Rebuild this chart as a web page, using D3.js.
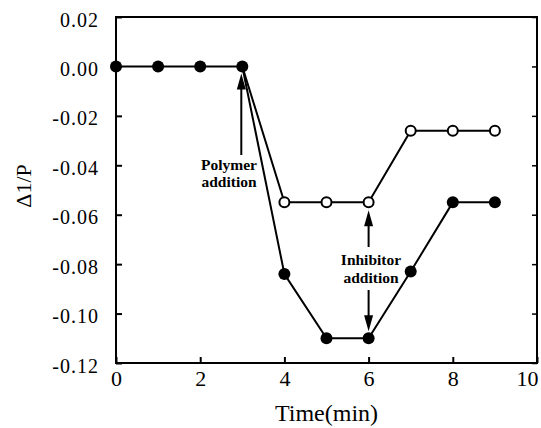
<!DOCTYPE html>
<html>
<head>
<meta charset="utf-8">
<script src="https://cdn.jsdelivr.net/npm/d3@7"></script>
<style>
  body { margin: 0; background: #fff; }
  svg { display: block; }
  text { font-family: "Liberation Serif", "DejaVu Serif", serif; fill: #000; }
</style>
</head>
<body>
<svg id="chart" width="541" height="428"></svg>
<script>
// time points (min)
const time = [0, 1, 2, 3, 4, 5, 6, 7, 8, 9];
// filled circles: polymer only, then inhibitor
const filledValues = [0, 0, 0, 0, -0.084, -0.11, -0.11, -0.083, -0.055, -0.055];
// open circles (series branches off at t=3)
const openTime = [3, 4, 5, 6, 7, 8, 9];
const openValues = [0, -0.055, -0.055, -0.055, -0.026, -0.026, -0.026];

const xTicks = [0, 2, 4, 6, 8, 10];
const yTicks = [0.02, 0.00, -0.02, -0.04, -0.06, -0.08, -0.10, -0.12];

const svg = d3.select('#chart');
const mLeft = 116, mRight = 537, mTop = 17, mBottom = 363;

const x = d3.scaleLinear().domain([0, 10]).range([mLeft, mRight]);
const y = d3.scaleLinear().domain([-0.12, 0.02]).range([mBottom, mTop]);

// frame
svg.append('rect')
  .attr('x', mLeft).attr('y', mTop)
  .attr('width', mRight - mLeft).attr('height', mBottom - mTop)
  .attr('fill', 'none').attr('stroke', '#000').attr('stroke-width', 2);

// ticks
const xAxis = d3.axisBottom(x).tickValues(xTicks).tickSize(-6).tickPadding(6)
  .tickFormat(d3.format('d'));
const gx = svg.append('g').attr('transform', `translate(0,${mBottom})`).call(xAxis);
gx.select('.domain').remove();
gx.selectAll('line').attr('stroke-width', 2);
gx.selectAll('text').attr('font-size', 22).attr('dy', '0.75em');
// last label sits flush with the right edge
gx.selectAll('text').filter(d => d === 10)
  .attr('text-anchor', 'end').attr('dx', 1);

const yAxis = d3.axisLeft(y).tickValues(yTicks).tickSize(-6).tickPadding(17)
  .tickFormat(d3.format('.2f'));
const gy = svg.append('g').attr('transform', `translate(${mLeft},0)`).call(yAxis);
gy.select('.domain').remove();
gy.selectAll('line').attr('stroke-width', 2);
gy.selectAll('text').attr('font-size', 20).attr('letter-spacing', '1px')
  .attr('dy', '0.45em')
  .text(d => d3.format('.2f')(d).replace('−', '-'));

const gr = svg.append('g').attr('transform', `translate(${mRight},0)`)
  .call(d3.axisRight(y).tickValues(yTicks).tickSize(-5).tickFormat(''));
gr.select('.domain').remove();
gr.selectAll('line').attr('stroke-width', 1.5);

// axis titles
svg.append('text')
  .attr('x', (mLeft + mRight) / 2).attr('y', 421)
  .attr('text-anchor', 'middle').attr('font-size', 24)
  .text('Time(min)');

svg.append('text')
  .attr('transform', 'translate(31,186) rotate(-90)')
  .attr('text-anchor', 'middle').attr('font-size', 22)
  .text('Δ1/P');

// lines
const line = d3.line().x(d => x(d[0])).y(d => y(d[1]));
const filled = time.map((t, i) => [t, filledValues[i]]);
const open = openTime.map((t, i) => [t, openValues[i]]);

svg.append('path').datum(open).attr('d', line)
  .attr('fill', 'none').attr('stroke', '#000').attr('stroke-width', 2);
svg.append('path').datum(filled).attr('d', line)
  .attr('fill', 'none').attr('stroke', '#000').attr('stroke-width', 2);

svg.selectAll('.open').data(open.slice(1)).enter().append('circle')
  .attr('cx', d => x(d[0])).attr('cy', d => y(d[1])).attr('r', 5)
  .attr('fill', '#fff').attr('stroke', '#000').attr('stroke-width', 2);
svg.selectAll('.filled').data(filled).enter().append('circle')
  .attr('cx', d => x(d[0])).attr('cy', d => y(d[1])).attr('r', 6)
  .attr('fill', '#000');

// annotations
function arrow(x0, y0, y1) {
  const dir = y1 < y0 ? 1 : -1;
  svg.append('line')
    .attr('x1', x0).attr('y1', y0).attr('x2', x0).attr('y2', y1 + dir * 10)
    .attr('stroke', '#000').attr('stroke-width', 2);
  svg.append('path')
    .attr('d', `M${x0},${y1} L${x0 - 4.5},${y1 + dir * 16} L${x0 + 4.5},${y1 + dir * 16} Z`)
    .attr('fill', '#000');
}

arrow(x(3) - 1, 155, y(0) + 7);
arrow(x(6), 247, y(-0.055) + 8);
arrow(x(6), 290, y(-0.11) - 7);

const note = svg.append('g').attr('font-size', 15.5).attr('font-weight', 'bold')
  .attr('text-anchor', 'middle');
note.append('text').attr('x', 229).attr('y', 170).text('Polymer');
note.append('text').attr('x', 229).attr('y', 187).text('addition');
note.append('text').attr('x', 371).attr('y', 265).text('Inhibitor');
note.append('text').attr('x', 371).attr('y', 283).text('addition');
</script>
</body>
</html>
